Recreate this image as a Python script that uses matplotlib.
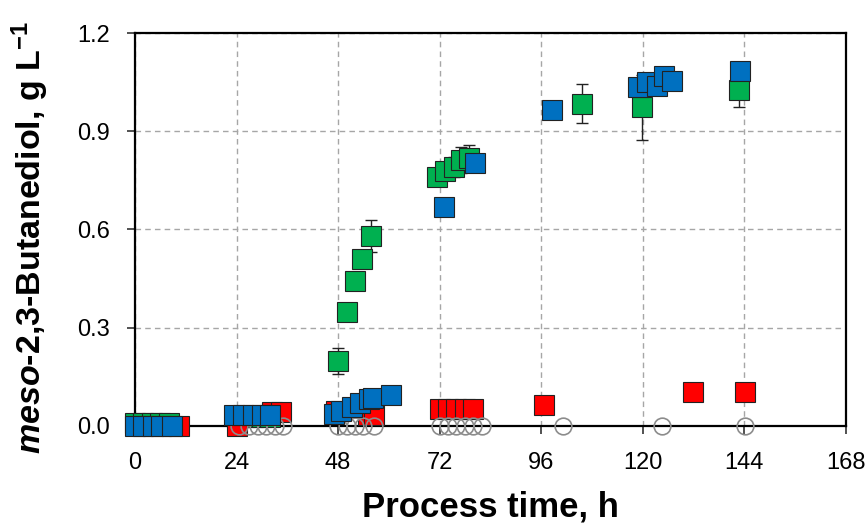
"""meso-2,3-Butanediol over process time: three cultivations plus the control."""

import matplotlib

matplotlib.use("Agg")
import matplotlib.pyplot as plt  # noqa: E402
from matplotlib.ticker import FormatStrFormatter  # noqa: E402

OUT = "out.png"

BLUE = "#0070C0"
GREEN = "#00B050"
RED = "#FF0000"
GREY = "#8c8c8c"

# green series (with standard deviation bars)
green_t = [0, 2, 4, 6, 8, 24, 26, 28, 30, 32,
           48.1, 50.0, 52.0, 53.7, 55.7,
           71.4, 73.4, 75.4, 77.1, 79.0,
           105.6, 119.9, 142.7]
green_y = [0.01, 0.01, 0.01, 0.01, 0.01, 0.028, 0.028, 0.028, 0.028, 0.028,
           0.199, 0.347, 0.444, 0.511, 0.580,
           0.761, 0.779, 0.790, 0.812, 0.817,
           0.984, 0.973, 1.025]
green_err = [0, 0, 0, 0, 0, 0, 0, 0, 0, 0,
             0.040, 0.010, 0.010, 0.020, 0.048,
             0.010, 0.020, 0.030, 0.040, 0.040,
             0.060, 0.100, 0.050]

# blue series
blue_t = [0, 2, 4.2, 6.2, 8.8,
          23.4, 25.5, 28.0, 30.0, 32.0,
          47.0, 48.7, 51.2, 53.2, 55.3, 56.3, 60.6,
          73.0, 80.3, 98.6,
          119.0, 121.0, 123.3, 125.0, 127.0, 143.0]
blue_y = [0.0, 0.0, 0.0, 0.0, 0.0,
          0.035, 0.035, 0.033, 0.033, 0.033,
          0.038, 0.047, 0.059, 0.070, 0.082, 0.086, 0.095,
          0.670, 0.803, 0.965,
          1.036, 1.051, 1.039, 1.070, 1.054, 1.085]

# red series
red_t = [10.4, 24.2, 32.4, 34.4, 47.5, 55.0, 56.5,
         72, 74, 76, 78, 80, 96.8, 131.9, 144.1]
red_y = [0.0, 0.0, 0.043, 0.043, 0.045, 0.035, 0.035,
         0.053, 0.053, 0.053, 0.053, 0.053, 0.065, 0.105, 0.105]

# control (open grey circles, all zero)
ctrl_t = [0, 2, 4, 6, 8, 24.5, 27, 29, 31, 33, 35,
          48, 50, 52, 54, 56.5, 72, 74, 76, 78, 80, 82,
          101.2, 124.5, 144.1]
ctrl_y = [0.0] * len(ctrl_t)

X_TICKS = [0, 24, 48, 72, 96, 120, 144, 168]
Y_TICKS = [0.0, 0.3, 0.6, 0.9, 1.2]


def main() -> int:
    plt.rcParams["font.family"] = "Liberation Sans"
    plt.rcParams["mathtext.fontset"] = "custom"
    plt.rcParams["mathtext.rm"] = "Liberation Sans:bold"
    plt.rcParams["mathtext.it"] = "Liberation Sans:italic:bold"

    fig = plt.figure(figsize=(8.67, 5.23), dpi=100)
    ax = fig.add_axes([0.1557, 0.1855, 0.8197, 0.7514])

    sq = dict(marker="s", linestyle="none", markersize=14,
              markeredgecolor="#222222", markeredgewidth=0.8, clip_on=False)

    ax.errorbar(green_t, green_y, yerr=green_err, fmt="none", ecolor="#222222",
                elinewidth=1.0, capsize=4.5, capthick=1.0, zorder=2, clip_on=False)
    ax.plot(green_t, green_y, color=GREEN, zorder=3, **sq)
    ax.plot(red_t, red_y, color=RED, zorder=4, **sq)
    ax.plot(ctrl_t, ctrl_y, marker="o", linestyle="none", markersize=12,
            markerfacecolor="none", markeredgecolor=GREY, markeredgewidth=1.2,
            zorder=5, clip_on=False)
    ax.plot(blue_t, blue_y, color=BLUE, zorder=6, **sq)

    ax.set_xlim(0, 168)
    ax.set_ylim(0, 1.2)
    ax.set_xticks(X_TICKS)
    ax.set_yticks(Y_TICKS)
    ax.yaxis.set_major_formatter(FormatStrFormatter("%.1f"))

    ax.grid(True, color="#a6a6a6", linestyle=(0, (4, 3)), linewidth=1.0)
    ax.set_axisbelow(True)
    for s in ax.spines.values():
        s.set_color("black")
        s.set_linewidth(1.6)
        s.set_zorder(1.5)

    ax.tick_params(axis="x", direction="out", length=6, width=1.2, pad=13,
                   labelsize=17, color="#333333")
    ax.tick_params(axis="y", direction="out", length=6, width=1.2, pad=12,
                   labelsize=17, color="#333333")

    ax.set_xlabel("Process time, h", fontsize=25, fontweight="bold")
    ax.xaxis.set_label_coords(0.5, -0.163)
    ax.set_ylabel(r"$meso$-2,3-Butanediol, g L$^{-1}$", fontsize=24.5,
                  fontweight="bold")
    ax.yaxis.set_label_coords(-0.118, 0.48)

    fig.savefig(OUT, dpi=100)
    plt.close(fig)
    return 0


if __name__ == "__main__":
    raise SystemExit(main())
